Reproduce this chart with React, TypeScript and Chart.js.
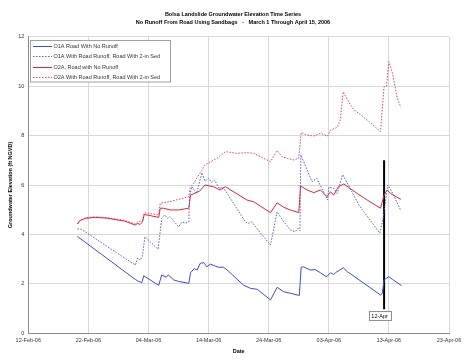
import React, { useEffect, useRef } from "react";
import { Chart, registerables } from "chart.js";

Chart.register(...registerables);

const titleLines = [
  "Bolsa Landslide Groundwater Elevation Time Series",
  "No Runoff From Road Using Sandbags   -   March 1 Through April 15, 2006",
];
const xTickLabels = ["12-Feb-06", "22-Feb-06", "04-Mar-06", "14-Mar-06", "24-Mar-06", "03-Apr-06", "13-Apr-06", "23-Apr-06"];
const xAxisTitle = "Date";
const yAxisTitle = "Groundwater Elevation (ft NGVD)";
const seriesLabels = [
  "O1A Road With No Runoff",
  "O1A With Road Runoff, Road With 2-in Sed",
  "O2A, Road with No Runoff",
  "O2A With Road Runoff, Road With 2-in Sed",
];

// days since 12-Feb-06
const o1aDays = [8.17, 17.8, 18.2, 18.9, 19.2, 21.7, 22.2, 22.95, 23.3, 24.2, 25.0, 26.7, 27.0, 27.6, 28.1, 28.6, 29.2, 29.7, 30.3, 31.1, 31.7, 32.5, 33.1, 35.8, 36.95, 38.1, 40.3, 41.4, 42.5, 43.6, 45.1, 45.4, 45.8, 46.9, 47.7, 48.6, 49.4, 49.7, 50.3, 50.8, 51.1, 52.4, 53.1, 54.7, 58.6, 58.9, 59.2, 60.0, 60.6, 62.1];
const o1aVals = [3.92, 2.18, 2.12, 2.05, 2.33, 1.94, 2.36, 2.27, 2.36, 2.16, 2.10, 2.02, 2.45, 2.62, 2.56, 2.83, 2.86, 2.69, 2.80, 2.72, 2.67, 2.67, 2.56, 1.95, 1.82, 1.78, 1.35, 1.86, 1.68, 1.62, 1.53, 2.67, 2.69, 2.56, 2.58, 2.45, 2.32, 2.30, 2.45, 2.38, 2.45, 2.65, 2.49, 2.22, 1.55, 1.62, 2.16, 2.29, 2.18, 1.93];

const o1aRunoffDays = [8.17, 8.8, 17.8, 18.2, 18.6, 19.0, 19.4, 21.6, 22.2, 22.7, 23.2, 23.6, 25.0, 25.6, 26.1, 26.7, 26.85, 27.2, 28.0, 28.9, 29.4, 30.0, 30.5, 31.0, 31.8, 32.3, 33.0, 36.1, 36.6, 37.2, 38.0, 40.3, 41.4, 42.5, 43.6, 44.4, 44.9, 45.2, 45.35, 46.4, 47.2, 48.0, 49.8, 50.0, 50.8, 51.4, 52.3, 53.1, 55.0, 58.5, 59.0, 59.8, 60.2, 62.0];
const o1aRunoffVals = [4.22, 4.21, 2.76, 3.05, 2.95, 3.12, 3.91, 3.40, 4.65, 4.79, 4.65, 4.72, 4.31, 4.51, 4.45, 4.51, 5.55, 5.93, 5.66, 6.50, 6.15, 6.27, 6.10, 6.20, 5.85, 5.93, 5.70, 4.51, 4.45, 4.51, 4.25, 3.57, 4.92, 4.51, 4.18, 4.11, 4.25, 4.15, 7.21, 6.61, 6.13, 6.27, 5.39, 5.91, 5.87, 5.66, 6.42, 6.07, 5.19, 4.05, 4.60, 6.00, 5.87, 4.96];

const o2aDays = [8.17, 8.6, 9.5, 11, 13, 16, 17.8, 18.2, 18.6, 19.0, 19.3, 21.7, 21.95, 22.5, 23.6, 25.0, 26.7, 27.0, 28.5, 29.4, 30.8, 31.9, 32.8, 36.4, 37.5, 40.3, 41.4, 42.5, 43.6, 45.0, 45.3, 46.4, 47.5, 48.6, 49.7, 50.3, 50.8, 51.6, 52.5, 54.7, 56.4, 58.6, 59.2, 59.7, 60.3, 62.0];
const o2aVals = [4.42, 4.56, 4.65, 4.69, 4.66, 4.54, 4.38, 4.45, 4.40, 4.51, 4.81, 4.69, 5.06, 5.06, 4.99, 4.99, 5.06, 5.59, 5.75, 6.00, 5.93, 5.80, 5.93, 5.39, 5.32, 4.88, 5.28, 5.10, 4.99, 4.88, 5.96, 5.80, 5.69, 5.80, 5.53, 5.73, 5.59, 5.93, 6.04, 5.66, 5.39, 5.06, 5.59, 5.80, 5.65, 5.42];

const o2aRunoffDays = [8.17, 8.6, 9.5, 11, 13, 16, 17.8, 18.2, 19.0, 19.3, 21.7, 21.95, 23.5, 25.0, 26.7, 26.9, 27.5, 28.9, 29.3, 30.3, 31.4, 32.8, 34.7, 36.4, 37.5, 40.3, 41.4, 42.2, 43.1, 44.2, 45.0, 45.4, 46.4, 47.5, 48.6, 49.8, 50.3, 51.4, 51.9, 52.4, 53.3, 54.2, 55.0, 57.0, 58.6, 59.2, 59.6, 60.0, 60.6, 61.4, 62.0];
const o2aRunoffVals = [4.42, 4.57, 4.67, 4.71, 4.68, 4.57, 4.42, 4.50, 4.56, 4.88, 4.79, 5.26, 5.32, 5.42, 5.53, 5.87, 6.07, 6.60, 6.80, 6.94, 7.08, 7.35, 7.28, 7.31, 7.28, 6.94, 7.39, 7.15, 7.08, 7.01, 7.08, 8.12, 8.02, 7.98, 8.09, 7.98, 8.22, 8.33, 8.63, 9.77, 9.37, 9.03, 8.90, 8.50, 8.16, 9.98, 10.00, 10.99, 10.52, 9.51, 9.14];

// 12-Apr marker
const markerDays = [59.2, 59.2];
const markerVals = [7.0, 0.97];
const markerLabel = "12-Apr";

const FONT = 'Arial, "Liberation Sans", sans-serif';
const BLUE = "#3a4ec4";
const BLUE2 = "#4862c8";
const RED = "#d6283c";
const RED2 = "#df4460";

const toPts = (d: number[], v: number[]) => d.map((x, i) => ({ x, y: v[i] }));

const decorPlugin = {
  id: "decor",
  afterDraw(chart: any) {
    const ctx = chart.ctx as CanvasRenderingContext2D;
    const xs = chart.scales.x;
    const ys = chart.scales.y;
    ctx.save();
    // title
    ctx.fillStyle = "#000";
    ctx.font = `bold 5.5px ${FONT}`;
    ctx.textAlign = "center";
    ctx.textBaseline = "middle";
    ctx.fillText(titleLines[0], chart.width / 2, 14.5);
    ctx.fillText(titleLines[1], chart.width / 2, 22.5);

    // legend
    const lx = 30.5, ly = 40.5, lw = 140, lh = 41.5;
    ctx.fillStyle = "#fff";
    ctx.fillRect(lx, ly, lw, lh);
    ctx.strokeStyle = "#a0a0a0";
    ctx.lineWidth = 1;
    ctx.setLineDash([]);
    ctx.strokeRect(lx, ly, lw, lh);
    ctx.font = `5.5px ${FONT}`;
    ctx.textAlign = "left";
    seriesLabels.forEach((lab, i) => {
      const ds = chart.data.datasets[i];
      const yy = 45.7 + i * 10.55;
      ctx.strokeStyle = ds.borderColor;
      ctx.lineWidth = ds.borderWidth;
      ctx.setLineDash(ds.borderDash || []);
      ctx.beginPath();
      ctx.moveTo(33, Math.round(yy) + 0.5);
      ctx.lineTo(52, Math.round(yy) + 0.5);
      ctx.stroke();
      ctx.setLineDash([]);
      ctx.fillStyle = "#333";
      ctx.fillText(lab, 53.5, yy + 0.5);
    });

    // marker label
    const px = xs.getPixelForValue(markerDays[1]) - 4.5;
    const py = ys.getPixelForValue(markerVals[1]) + 6.5;
    ctx.font = `5.5px ${FONT}`;
    const tw = ctx.measureText(markerLabel).width;
    const bw = tw + 5, bh = 9;
    ctx.fillStyle = "#fff";
    ctx.fillRect(px - bw / 2, py - bh / 2, bw, bh);
    ctx.strokeStyle = "#909090";
    ctx.lineWidth = 1;
    ctx.strokeRect(Math.round(px - bw / 2) + 0.5, Math.round(py - bh / 2) + 0.5, Math.round(bw), bh);
    ctx.fillStyle = "#000";
    ctx.textAlign = "center";
    ctx.fillText(markerLabel, px, py + 0.5);
    ctx.restore();
  },
};

export default function App() {
  const ref = useRef<HTMLCanvasElement | null>(null);
  useEffect(() => {
    if (!ref.current) return;
    const chart = new Chart(ref.current, {
      type: "line",
      data: {
        datasets: [
          { label: seriesLabels[0], data: toPts(o1aDays, o1aVals), borderColor: BLUE, borderWidth: 1, pointRadius: 0, tension: 0 },
          { label: seriesLabels[1], data: toPts(o1aRunoffDays, o1aRunoffVals), borderColor: BLUE2, borderWidth: 1, borderDash: [1.5, 1.5], pointRadius: 0, tension: 0 },
          { label: seriesLabels[2], data: toPts(o2aDays, o2aVals), borderColor: RED, borderWidth: 1, pointRadius: 0, tension: 0 },
          { label: seriesLabels[3], data: toPts(o2aRunoffDays, o2aRunoffVals), borderColor: RED2, borderWidth: 1, borderDash: [1.5, 1.5], pointRadius: 0, tension: 0 },
          { label: markerLabel, data: toPts(markerDays, markerVals), borderColor: "#000", borderWidth: 2, pointRadius: 0, tension: 0 },
        ],
      } as any,
      options: {
        animation: false,
        responsive: false,
        devicePixelRatio: 1,
        layout: { padding: { top: 36.7, left: 0, right: 0, bottom: 0 } },
        plugins: { legend: { display: false }, tooltip: { enabled: false }, title: { display: false } },
        scales: {
          x: {
            type: "linear",
            min: 0,
            max: 70,
            ticks: {
              stepSize: 10,
              autoSkip: false,
              maxRotation: 0,
              padding: 4,
              color: "#333",
              font: { family: FONT, size: 5.5 },
              callback: (v: any) => xTickLabels[Math.round(Number(v) / 10)] ?? "",
            },
            grid: { color: "#d8d8d8", drawTicks: false, lineWidth: 1 },
            border: { color: "#8c8c8c" },
            title: { display: true, text: xAxisTitle, color: "#000", font: { family: FONT, size: 5.5, weight: "bold" }, padding: { top: 0, bottom: 5.7 } },
            afterFit: (s: any) => {
              s.height = 26.7;
              s.paddingLeft = 0;
              s.paddingRight = 17;
            },
          },
          y: {
            type: "linear",
            min: 0,
            max: 12,
            ticks: { stepSize: 2, padding: 4, color: "#333", font: { family: FONT, size: 5.5 } },
            grid: { color: "#d8d8d8", drawTicks: false, lineWidth: 1 },
            border: { color: "#8c8c8c" },
            title: { display: true, text: yAxisTitle, color: "#000", font: { family: FONT, size: 5.5, weight: "bold" }, padding: { top: 6.7, bottom: 0 } },
            afterFit: (s: any) => {
              s.width = 28.3;
              s.paddingTop = 0;
              s.paddingBottom = 0;
            },
          },
        },
      } as any,
      plugins: [decorPlugin],
    });
    return () => chart.destroy();
  }, []);
  return (
    <div style={{ position: "fixed", left: 0, top: 0, width: 466, height: 360, background: "#fff" }}>
      <canvas ref={ref} width={466} height={360} style={{ width: 466, height: 360, display: "block" }} />
    </div>
  );
}
